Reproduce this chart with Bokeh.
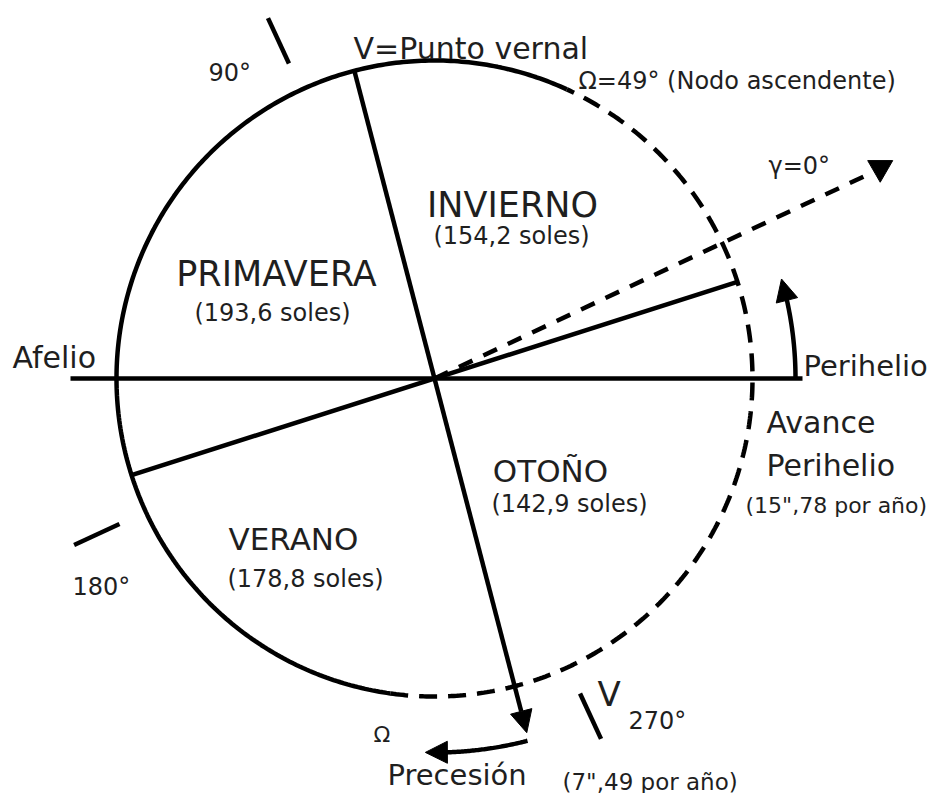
import numpy as np
from bokeh.plotting import figure
from bokeh.models import Range1d, Arrow, NormalHead
from bokeh.core.properties import value
from bokeh.embed import file_html
from bokeh.resources import INLINE

# ---------------- data ----------------
season_names = ["PRIMAVERA", "INVIERNO", "OTOÑO", "VERANO"]
season_sols = ["(193,6 soles)", "(154,2 soles)", "(142,9 soles)", "(178,8 soles)"]
ls_ticks = [90, 180, 270]
ls_tick_labels = ["90°", "180°", "270°"]

# orbit geometry (degrees, counter-clockwise from the perihelion direction)
orbit_solid_arc = [65.4, 262.0]
orbit_dashed_arc = [262.0, 425.4]
vernal_line_angle = 104.6          # V = punto vernal
season_line_angle = 17.7           # other season boundary
gamma_angle = 25.2                 # gamma = 0 deg direction
ls_offset = 24.8                   # Ls = 0 direction
perihelion_advance_arc = [0.0, 16.0]
precession_arc = [-75.6, -91.4]

# ---------------- layout ----------------
CX, CY, R = 434.0, 378.0, 318.0
LW = 4.5
INK = "black"
TXT = "#1f1f1f"
FONT = "DejaVu Sans"


def pol(r, ang):
    a = np.radians(ang)
    return CX + r * np.cos(a), CY - r * np.sin(a)


p = figure(width=932, height=793, x_range=Range1d(0, 932), y_range=Range1d(793, 0),
           output_backend="svg", toolbar_location=None, x_axis_type=None, y_axis_type=None,
           min_border=0, outline_line_color=None, background_fill_color="white",
           border_fill_color="white")
p.xgrid.visible = False
p.ygrid.visible = False

# orbit
t = np.linspace(orbit_solid_arc[0], orbit_solid_arc[1], 300)
xs, ys = pol(R, t)
p.line(xs, ys, line_width=LW, line_color=INK)
t = np.linspace(orbit_dashed_arc[0], orbit_dashed_arc[1], 300)
xs, ys = pol(R, t)
p.line(xs, ys, line_width=LW, line_color=INK, line_dash="18 11")

# apsides line (Afelio - Perihelio)
x0, y0 = pol(364, 180)
x1, y1 = pol(368, 0)
p.line([x0, x1], [y0, y1], line_width=LW, line_color=INK)

# season boundary line
x0, y0 = pol(R, season_line_angle + 180)
x1, y1 = pol(R, season_line_angle)
p.line([x0, x1], [y0, y1], line_width=LW, line_color=INK)

# vernal line with arrow
x0, y0 = pol(R, vernal_line_angle)
x1, y1 = pol(366, vernal_line_angle + 180)
p.add_layout(Arrow(x_start=x0, y_start=y0, x_end=x1, y_end=y1, line_width=LW, line_color=INK,
                   end=NormalHead(size=22, fill_color=INK, line_color=INK, line_width=1)))

# gamma dashed line with triangle end
x1, y1 = pol(483, gamma_angle)
p.line([CX, x1], [CY, y1], line_width=LW, line_color=INK, line_dash="15 12")
gx, gy = pol(493, gamma_angle + 0.1)
p.scatter([gx], [gy], marker="inverted_triangle", size=25, fill_color=INK, line_color=INK)

# Ls tick marks
for ls in ls_ticks:
    a = ls + ls_offset
    x0, y0 = pol(347, a)
    x1, y1 = pol(397, a)
    p.line([x0, x1], [y0, y1], line_width=LW, line_color=INK)


def curved_arrow(r, a0, a1):
    sgn = 1 if a1 > a0 else -1
    head_deg = np.degrees(22.0 / r)
    t = np.linspace(a0, a1 - sgn * head_deg * 0.6, 60)
    xs, ys = pol(r, t)
    p.line(xs, ys, line_width=LW, line_color=INK)
    xb, yb = pol(r, a1 - sgn * head_deg)
    xt, yt = pol(r, a1)
    p.add_layout(Arrow(x_start=xb, y_start=yb, x_end=xt, y_end=yt, line_width=LW, line_color=INK,
                       end=NormalHead(size=22, fill_color=INK, line_color=INK, line_width=1)))


curved_arrow(361, perihelion_advance_arc[0], perihelion_advance_arc[1])
curved_arrow(374, precession_arc[0], precession_arc[1])


def label(x, y, txt, size, align="left"):
    p.text([x], [y], text=[txt], text_font=value(FONT), text_font_size=value(f"{size}px"),
           text_align=align, text_baseline="alphabetic", text_color=TXT)


# season labels
season_pos = [(276, 273, 272, 312), (512, 204, 511, 235), (550, 470, 569, 503), (293, 538, 305, 578)]
season_size = [35, 35, 31, 31]
for name, sols, (nx, ny, sx, sy), fs in zip(season_names, season_sols, season_pos, season_size):
    label(nx, ny, name, fs, "center")
    label(sx, sy, sols, 24, "center")

# tick labels
tick_pos = [(208, 72), (72, 586), (628, 720)]
for txt, (x, y) in zip(ls_tick_labels, tick_pos):
    label(x, y, txt, 24)

label(353, 48, "V=Punto vernal", 30)
label(578, 80, "Ω=49° (Nodo ascendente)", 24)
label(768, 165, "γ=0°", 24)
label(12, 357, "Afelio", 30)
label(803, 365, "Perihelio", 29)
label(766, 422, "Avance", 30)
label(766, 465, "Perihelio", 30)
label(745, 505, "(15\",78 por año)", 22)
label(597, 693, "V", 34)
label(373, 734, "Ω", 22)
label(387, 774, "Precesión", 29)
label(562, 781, "(7\",49 por año)", 23)

open("out.html", "w").write(file_html(p, INLINE))
